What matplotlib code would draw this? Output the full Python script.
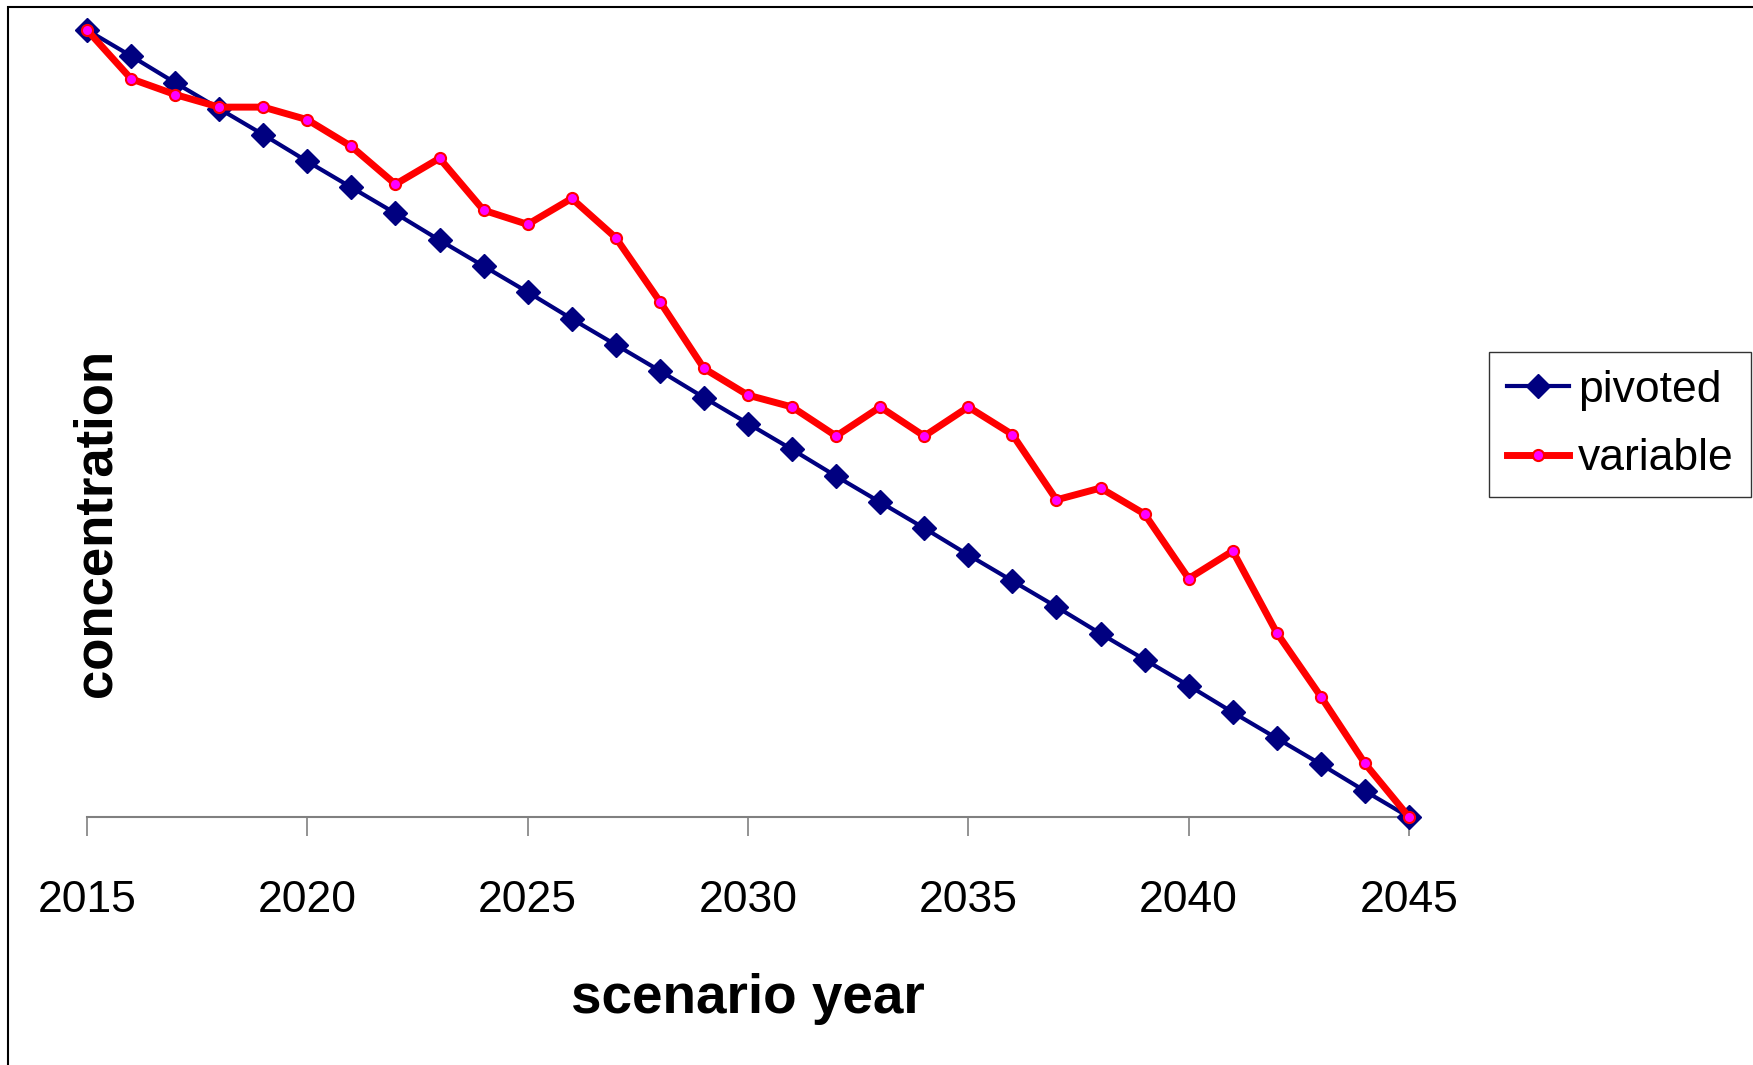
import matplotlib.pyplot as plt
from matplotlib.patches import Rectangle

plt.rcParams['font.family'] = ['Liberation Sans', 'DejaVu Sans']

# data (concentration on a 0-100 relative scale)
years = list(range(2015, 2046))
pivoted = [100, 96.7, 93.3, 90, 86.7, 83.3, 80, 76.7, 73.3, 70, 66.7,
           63.3, 60, 56.7, 53.3, 50, 46.7, 43.3, 40, 36.7, 33.3,
           30, 26.7, 23.3, 20, 16.7, 13.3, 10, 6.7, 3.3, 0]
variable = [100, 93.8, 91.8, 90.2, 90.2, 88.6, 85.2, 80.4, 83.7, 77.1, 75.3,
            78.6, 73.6, 65.5, 57.0, 53.6, 52.1, 48.4, 52.1, 48.4, 52.1,
            48.6, 40.3, 41.8, 38.5, 30.3, 33.8, 23.4, 15.3, 6.8, 0]
tick_years = [2015, 2020, 2025, 2030, 2035, 2040, 2045]

W, H = 1753, 1065
fig = plt.figure(figsize=(W / 100, H / 100), dpi=100)
ax = fig.add_axes([87 / W, 1 - 817 / H, (1409 - 87) / W, (817 - 30) / H])

# outer chart border (only left and top edges visible in the crop)
fig.patches.append(Rectangle((8 / W, -0.1), 1.2, 1 - 7 / H + 0.1,
                             transform=fig.transFigure, fill=False,
                             edgecolor='black', linewidth=1.5))

ax.plot(years, pivoted, '-D', color='#000080', linewidth=3.0, markersize=12.5,
        label='pivoted', clip_on=False, zorder=3)
ax.plot(years, variable, '-o', color='#ff0000', linewidth=5.0, markersize=8,
        markerfacecolor='#ff00ff', markeredgecolor='#ff0000', markeredgewidth=1.5,
        label='variable', clip_on=False, zorder=4)

ax.set_xlim(2015, 2045)
ax.set_ylim(0, 100)
for s in ['top', 'right', 'left']:
    ax.spines[s].set_visible(False)
ax.spines['bottom'].set_color('#808080')
ax.spines['bottom'].set_linewidth(1.5)
ax.set_yticks([])
ax.set_xticks(tick_years)
ax.tick_params(axis='x', direction='out', length=14, width=1.2,
               color='#808080', pad=31, labelsize=32)

ax.set_xlabel('scenario year', fontsize=39.5, fontweight='bold', labelpad=38)
ax.set_ylabel('concentration', fontsize=38, fontweight='bold')
ax.yaxis.set_label_coords(0.026, 0.3736)

leg = fig.legend(loc='upper left', bbox_to_anchor=(1489 / W, 1 - 352 / H),
                 bbox_transform=fig.transFigure, borderaxespad=0,
                 fontsize=32, fancybox=False, edgecolor='black',
                 handlelength=1.4, handletextpad=0.2, borderpad=0.4,
                 labelspacing=0.62)
leg.get_frame().set_linewidth(1.0)

fig.savefig('out.png', dpi=100)
